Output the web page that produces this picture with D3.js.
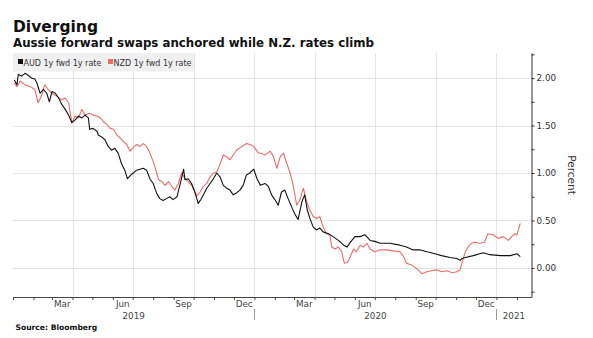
<!DOCTYPE html>
<html>
<head>
<meta charset="utf-8">
<script src="https://cdn.jsdelivr.net/npm/d3@7"></script>
<style>
  html, body { margin: 0; padding: 0; background: #fff; }
  svg { display: block; font-family: "DejaVu Sans", Verdana, sans-serif; }
</style>
</head>
<body>
<svg id="chart" width="593" height="338"></svg>
<script>
// AUD 1y forward 1y swap rate (percent)
const audDates = [
  "2019-01-03","2019-01-07","2019-01-09","2019-01-14","2019-01-19","2019-01-24","2019-01-29","2019-02-03",
  "2019-02-06","2019-02-11","2019-02-16","2019-02-21","2019-02-25","2019-03-01","2019-03-06","2019-03-11",
  "2019-03-16","2019-03-21","2019-03-26","2019-03-31","2019-04-05","2019-04-10","2019-04-15","2019-04-20",
  "2019-04-25","2019-04-27","2019-05-02","2019-05-08","2019-05-10","2019-05-15","2019-05-20","2019-05-25",
  "2019-05-30","2019-06-04","2019-06-09","2019-06-14","2019-06-19","2019-06-23","2019-06-30","2019-07-07",
  "2019-07-17","2019-07-22","2019-07-27","2019-08-01","2019-08-06","2019-08-11","2019-08-16","2019-08-21",
  "2019-08-26","2019-08-31","2019-09-06","2019-09-11","2019-09-16","2019-09-18","2019-09-23","2019-09-28",
  "2019-10-03","2019-10-08","2019-10-12","2019-10-16","2019-10-21","2019-10-26","2019-10-31","2019-11-05",
  "2019-11-10","2019-11-15","2019-11-20","2019-11-25","2019-11-30","2019-12-05","2019-12-10","2019-12-15",
  "2019-12-20","2019-12-25","2019-12-31","2020-01-05","2020-01-10","2020-01-17","2020-01-22","2020-01-27",
  "2020-02-01","2020-02-06","2020-02-11","2020-02-16","2020-02-21","2020-02-27","2020-03-02","2020-03-07",
  "2020-03-13","2020-03-17","2020-03-21","2020-03-25","2020-03-30","2020-04-04","2020-04-09","2020-04-14",
  "2020-04-22","2020-04-29","2020-05-07","2020-05-15","2020-05-20","2020-05-25","2020-06-01","2020-06-09",
  "2020-06-16","2020-06-24","2020-07-01","2020-07-09","2020-07-24","2020-08-08","2020-08-18","2020-08-28",
  "2020-09-08","2020-09-18","2020-09-30","2020-10-10","2020-10-23","2020-11-02","2020-11-07","2020-11-10",
  "2020-11-15","2020-11-27","2020-12-12","2020-12-22","2021-01-07","2021-01-22","2021-02-01","2021-02-06"
];
const audValues = [
  1.98,1.93,2.04,2.02,2.05,2.03,2.00,1.99,
  1.95,1.84,1.88,1.84,1.75,1.86,1.84,1.79,
  1.72,1.67,1.61,1.53,1.56,1.60,1.58,1.61,
  1.58,1.46,1.47,1.44,1.40,1.38,1.35,1.28,
  1.24,1.26,1.21,1.10,1.03,0.94,0.99,1.03,
  1.05,1.03,0.94,0.89,0.79,0.73,0.71,0.73,
  0.75,0.72,0.75,0.89,1.04,0.93,0.94,0.89,
  0.80,0.68,0.72,0.77,0.84,0.89,0.94,1.00,
  0.96,0.87,0.84,0.82,0.77,0.79,0.82,0.87,
  0.98,1.00,1.04,0.94,0.87,0.89,0.86,0.77,
  0.72,0.66,0.80,0.82,0.73,0.63,0.57,0.51,
  0.70,0.77,0.61,0.52,0.43,0.40,0.42,0.38,
  0.36,0.33,0.29,0.24,0.22,0.27,0.33,0.33,
  0.35,0.29,0.28,0.26,0.26,0.24,0.22,0.19,
  0.19,0.17,0.15,0.13,0.11,0.10,0.08,0.10,
  0.11,0.13,0.16,0.14,0.13,0.13,0.15,0.12
];

// NZD 1y forward 1y swap rate (percent)
const nzdDates = [
  "2019-01-03","2019-01-07","2019-01-12","2019-01-19","2019-01-27","2019-02-03","2019-02-08","2019-02-13",
  "2019-02-18","2019-02-23","2019-03-01","2019-03-08","2019-03-16","2019-03-21","2019-03-26","2019-03-31",
  "2019-04-05","2019-04-10","2019-04-15","2019-04-20","2019-04-27","2019-05-02","2019-05-08","2019-05-13",
  "2019-05-18","2019-05-23","2019-05-28","2019-06-02","2019-06-07","2019-06-12","2019-06-17","2019-06-22",
  "2019-06-27","2019-07-03","2019-07-07","2019-07-12","2019-07-17","2019-07-22","2019-07-27","2019-08-01",
  "2019-08-06","2019-08-09","2019-08-14","2019-08-19","2019-08-24","2019-08-29","2019-09-03","2019-09-08",
  "2019-09-13","2019-09-18","2019-09-23","2019-09-28","2019-10-03","2019-10-06","2019-10-11","2019-10-16",
  "2019-10-21","2019-10-26","2019-10-31","2019-11-05","2019-11-10","2019-11-15","2019-11-20","2019-11-25",
  "2019-11-30","2019-12-05","2019-12-13","2019-12-20","2019-12-25","2019-12-31","2020-01-07","2020-01-10",
  "2020-01-17","2020-01-25","2020-01-30","2020-02-04","2020-02-09","2020-02-14","2020-02-19","2020-02-24",
  "2020-02-29","2020-03-05","2020-03-10","2020-03-15","2020-03-20","2020-03-25","2020-03-30","2020-04-04",
  "2020-04-09","2020-04-14","2020-04-19","2020-04-24","2020-04-27","2020-05-02","2020-05-07","2020-05-12",
  "2020-05-16","2020-05-21","2020-05-25","2020-05-30","2020-06-03","2020-06-09","2020-06-14","2020-06-19",
  "2020-06-24","2020-07-01","2020-07-09","2020-07-19","2020-07-29","2020-08-08","2020-08-13","2020-08-18",
  "2020-08-26","2020-09-03","2020-09-10","2020-09-18","2020-09-25","2020-10-03","2020-10-10","2020-10-18",
  "2020-10-26","2020-11-02","2020-11-07","2020-11-11","2020-11-15","2020-11-19","2020-11-24","2020-11-29",
  "2020-12-07","2020-12-14","2020-12-19","2020-12-27","2021-01-04","2021-01-11","2021-01-19","2021-01-24",
  "2021-01-29","2021-02-01","2021-02-06"
];
const nzdValues = [
  1.95,1.91,1.97,1.93,1.91,1.88,1.74,1.81,
  1.93,1.88,1.84,1.81,1.77,1.79,1.74,1.53,
  1.60,1.58,1.67,1.61,1.63,1.61,1.60,1.58,
  1.54,1.51,1.47,1.46,1.40,1.37,1.33,1.30,
  1.23,1.28,1.30,1.28,1.31,1.28,1.21,1.12,
  1.01,0.93,0.91,0.87,0.91,0.86,0.82,0.89,
  1.00,0.94,0.91,0.87,0.80,0.76,0.80,0.86,
  0.89,0.96,1.00,1.01,1.09,1.19,1.17,1.14,
  1.19,1.24,1.28,1.31,1.30,1.28,1.21,1.21,
  1.19,1.23,1.17,1.05,1.17,1.21,1.10,1.00,
  0.86,0.66,0.72,0.84,0.70,0.61,0.54,0.52,
  0.54,0.43,0.36,0.35,0.22,0.20,0.22,0.17,
  0.05,0.06,0.12,0.20,0.17,0.24,0.22,0.26,
  0.20,0.17,0.19,0.19,0.18,0.17,0.13,0.05,
  0.03,-0.01,-0.06,-0.04,-0.03,-0.02,-0.04,-0.03,
  -0.05,-0.04,-0.02,0.08,0.17,0.22,0.26,0.27,
  0.26,0.27,0.36,0.35,0.31,0.33,0.29,0.33,
  0.36,0.35,0.47
];

const seriesNames = ["AUD 1y fwd 1y rate", "NZD 1y fwd 1y rate"];
const seriesColors = ["#111111", "#ec6b6b"];
const yTickValues = [0, 0.5, 1, 1.5, 2];
const quarterMonthLabels = ["Mar", "Jun", "Sep", "Dec"];
const yearLabels = ["2019", "2020", "2021"];
const xStart = "2019-01-01", xEnd = "2021-02-23";
const yMin = -0.306, yMax = 2.264;

const parse = d3.timeParse("%Y-%m-%d");
const svg = d3.select("#chart");

const plot = { left: 13, right: 531.5, top: 53, bottom: 297 };

const x = d3.scaleTime().domain([parse(xStart), parse(xEnd)]).range([plot.left, plot.right]);
const y = d3.scaleLinear().domain([yMin, yMax]).range([plot.bottom, plot.top]);

// Titles
svg.append("text").attr("x", 13).attr("y", 31.5)
  .attr("font-size", 15.5).attr("font-weight", "bold").attr("fill", "#111")
  .text("Diverging");
svg.append("text").attr("x", 13).attr("y", 46.5)
  .attr("font-size", 11.8).attr("font-weight", "bold").attr("fill", "#111")
  .text("Aussie forward swaps anchored while N.Z. rates climb");

// Gridlines
const grid = svg.append("g").attr("stroke", "#e4e4e4").attr("stroke-width", 1);
grid.selectAll("line.h").data(yTickValues).join("line")
  .attr("x1", plot.left).attr("x2", plot.right)
  .attr("y1", d => Math.round(y(d)) + 0.5).attr("y2", d => Math.round(y(d)) + 0.5);
const quarterStarts = d3.timeMonth.every(3).range(x.domain()[0], x.domain()[1]).filter(d => +d > +x.domain()[0]);
grid.selectAll("line.v").data(quarterStarts).join("line")
  .attr("y1", plot.top).attr("y2", plot.bottom)
  .attr("x1", d => Math.round(x(d)) + 0.5).attr("x2", d => Math.round(x(d)) + 0.5);

// Legend
const legend = svg.append("g");
legend.append("rect").attr("x", 13).attr("y", 53).attr("width", 181).attr("height", 18.5).attr("fill", "#f0f0f0");
const legendX = [18, 108];
seriesNames.forEach((name, i) => {
  legend.append("rect").attr("x", legendX[i]).attr("y", 59).attr("width", 5).attr("height", 5).attr("fill", seriesColors[i]);
  legend.append("text").attr("x", legendX[i] + 5.5).attr("y", 65.5)
    .attr("font-size", 8).attr("fill", "#333").text(name);
});

// Lines
const line = d3.line().x(d => x(d[0])).y(d => y(d[1]));
const nzd = nzdDates.map((d, i) => [parse(d), nzdValues[i]]);
const aud = audDates.map((d, i) => [parse(d), audValues[i]]);
svg.append("path").datum(nzd).attr("d", line).attr("fill", "none")
  .attr("stroke", seriesColors[1]).attr("stroke-width", 1.1).attr("stroke-linejoin", "round");
svg.append("path").datum(aud).attr("d", line).attr("fill", "none")
  .attr("stroke", seriesColors[0]).attr("stroke-width", 1.1).attr("stroke-linejoin", "round");

// Bottom axis: monthly ticks
const xAxis = d3.axisBottom(x).ticks(d3.timeMonth.every(1)).tickFormat("").tickSize(3).tickSizeOuter(0);
const gx = svg.append("g").attr("transform", `translate(0,${plot.bottom})`).call(xAxis);
gx.select(".domain").attr("stroke", "#444");
gx.selectAll(".tick line").attr("stroke", "#444");

// Quarter month labels centred within their month
const fmtMonth = d3.timeFormat("%b");
const labelMonths = d3.timeMonth.range(x.domain()[0], x.domain()[1]).filter(d => quarterMonthLabels.includes(fmtMonth(d)));
svg.append("g").selectAll("text").data(labelMonths).join("text")
  .attr("x", d => (x(d) + x(d3.timeMonth.offset(d, 1))) / 2)
  .attr("y", 306.5).attr("text-anchor", "middle").attr("font-size", 8.8).attr("fill", "#444")
  .text(d => fmtMonth(d));

// Year labels and separators
const years = yearLabels.map(s => {
  const a = d3.max([parse(s + "-01-01"), x.domain()[0]]);
  const b = d3.min([parse((+s + 1) + "-01-01"), x.domain()[1]]);
  return { label: s, mid: (x(a) + x(b)) / 2, start: parse(s + "-01-01") };
});
svg.append("g").selectAll("text").data(years).join("text")
  .attr("x", d => d.mid).attr("y", 318.5).attr("text-anchor", "middle")
  .attr("font-size", 8.8).attr("fill", "#444").text(d => d.label);
svg.append("g").selectAll("line").data(years.filter(d => +d.start > +x.domain()[0])).join("line")
  .attr("x1", d => Math.round(x(d.start)) + 0.5).attr("x2", d => Math.round(x(d.start)) + 0.5)
  .attr("y1", 309).attr("y2", 320).attr("stroke", "#999");

// Right axis
const yAxis = d3.axisRight(y).tickValues(d3.range(-0.25, 2.26, 0.25))
  .tickFormat(d => yTickValues.some(v => Math.abs(v - d) < 1e-9) ? d3.format(".2f")(d) : "")
  .tickSize(3).tickSizeOuter(0).tickPadding(2);
const gy = svg.append("g").attr("transform", `translate(${plot.right},0)`).call(yAxis);
gy.select(".domain").attr("stroke", "#333");
gy.selectAll(".tick line").attr("stroke", "#333");
gy.selectAll(".tick text").attr("font-size", 8.8).attr("fill", "#333").attr("font-family", "DejaVu Sans, Verdana, sans-serif");

svg.append("text").attr("transform", `translate(568,175) rotate(90)`)
  .attr("text-anchor", "middle").attr("font-size", 10.5).attr("fill", "#333").text("Percent");

// Source
svg.append("text").attr("x", 15.5).attr("y", 329.5)
  .attr("font-size", 7.6).attr("font-weight", "bold").attr("fill", "#111").text("Source: Bloomberg");
</script>
</body>
</html>
